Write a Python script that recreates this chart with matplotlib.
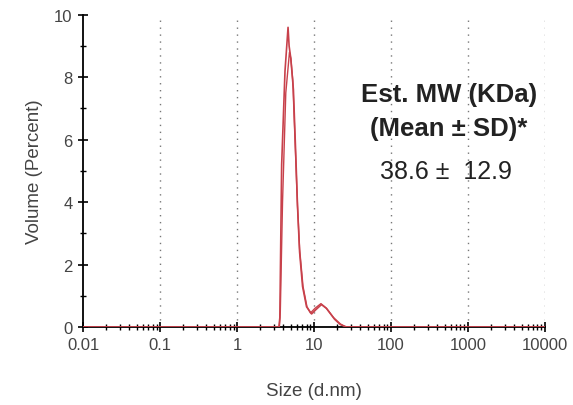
import numpy as np
import matplotlib.pyplot as plt
from matplotlib.ticker import LogLocator, FixedLocator, NullFormatter

plt.rcParams['font.family'] = ['Liberation Sans', 'DejaVu Sans']

# size (d.nm) and volume (%) for the two measurement traces
size_a = [0.01, 3.5, 3.6, 3.8, 4.2, 4.6, 4.75, 5.0, 5.4, 5.8, 6.1, 6.5, 7.1,
          8.0, 9.3, 10.5, 12.5, 14.5, 18.5, 22.0, 26.5, 10000]
vol_a = [0, 0, 0.3, 5.2, 8.2, 9.6, 9.0, 8.6, 7.6, 5.5, 3.9, 2.4, 1.3,
         0.65, 0.42, 0.55, 0.72, 0.6, 0.25, 0.08, 0, 0]

size_b = [0.01, 3.55, 3.65, 3.9, 4.3, 4.8, 5.0, 5.3, 5.7, 6.1, 6.5, 7.2,
          8.1, 9.0, 10.3, 12.3, 14.5, 18.0, 22.0, 26.0, 10000]
vol_b = [0, 0, 0.5, 4.0, 7.5, 8.8, 8.6, 7.9, 5.8, 3.9, 2.5, 1.3,
         0.65, 0.45, 0.6, 0.75, 0.6, 0.3, 0.1, 0, 0]

decades = [0.01, 0.1, 1, 10, 100, 1000, 10000]
dec_labels = ['0.01', '0.1', '1', '10', '100', '1000', '10000']

fig = plt.figure(figsize=(5.73, 4.06), dpi=100)
ax = fig.add_axes([0.145, 0.192, 0.806, 0.769])

for d in decades[1:]:
    ax.plot([d, d], [0, 10], color='#777777', lw=1.0, ls=(0, (1, 4)), zorder=1)

ax.plot(size_a, vol_a, color='#c8414b', lw=1.2, zorder=3)
ax.plot(size_b, vol_b, color='#c8414b', lw=1.0, zorder=3)

ax.set_xscale('log')
ax.set_xlim(0.01, 10000)
ax.set_ylim(0, 10)

ax.spines['top'].set_visible(False)
ax.spines['right'].set_visible(False)
ax.spines['left'].set_linewidth(1.3)
ax.spines['bottom'].set_linewidth(1.3)

ax.xaxis.set_major_locator(FixedLocator(decades))
ax.set_xticklabels(dec_labels)
ax.xaxis.set_minor_locator(LogLocator(base=10, subs=np.arange(2, 10), numticks=20))
ax.xaxis.set_minor_formatter(NullFormatter())
ax.set_yticks([0, 2, 4, 6, 8, 10])
ax.set_yticks([1, 3, 5, 7, 9], minor=True)

ax.tick_params(which='major', direction='inout', length=7, width=1.2,
               labelsize=12, labelcolor='#444444', pad=4)
ax.tick_params(which='minor', direction='inout', length=5, width=1.0)

ax.set_xlabel('Size (d.nm)', fontsize=13.5, color='#444444', labelpad=21)
ax.set_ylabel('Volume (Percent)', fontsize=13.5, color='#444444', labelpad=8)

ax.text(0.792, 0.747, 'Est. MW (KDa)', transform=ax.transAxes, ha='center',
        va='center', fontsize=18.5, fontweight='bold', color='#222222')
ax.text(0.792, 0.638, '(Mean \u00b1 SD)*', transform=ax.transAxes, ha='center',
        va='center', fontsize=18.5, fontweight='bold', color='#222222')
ax.text(0.785, 0.5, '38.6 \u00b1  12.9', transform=ax.transAxes, ha='center',
        va='center', fontsize=18, color='#222222')

fig.savefig('out.png', dpi=100)
